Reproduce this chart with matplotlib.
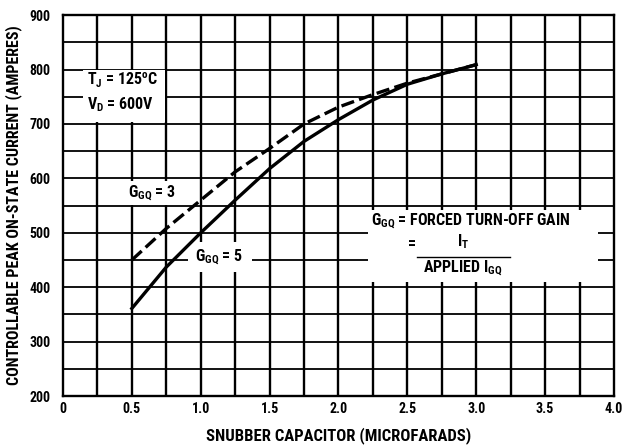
import numpy as np
import matplotlib
matplotlib.use("Agg")
import matplotlib.pyplot as plt
from matplotlib import font_manager
from matplotlib.patches import Rectangle

# pick a narrow bold sans if one is installed
names = {f.name for f in font_manager.fontManager.ttflist}
font = "DejaVu Sans"
for cand in ["Liberation Sans Narrow", "Roboto Condensed", "Open Sans Condensed", "Liberation Sans"]:
    if cand in names:
        font = cand
        break

plt.rcParams['font.family'] = [font, 'DejaVu Sans']
plt.rcParams['font.weight'] = 'bold'
plt.rcParams['axes.labelweight'] = 'bold'
plt.rcParams['mathtext.fontset'] = 'custom'
plt.rcParams['mathtext.rm'] = font + ':bold'
plt.rcParams['mathtext.it'] = font + ':bold'
plt.rcParams['mathtext.bf'] = font + ':bold'
plt.rcParams['mathtext.default'] = 'rm'

# data
cap = [0.5, 0.75, 1.0, 1.25, 1.5, 1.75, 2.0, 2.25, 2.5, 2.75, 3.0]
ggq3 = [450, 508, 560, 612, 655, 700, 731, 754, 775, 792, 809]
ggq5 = [361, 437, 500, 560, 618, 668, 708, 744, 773, 792, 809]

x_ticks = [0, 0.5, 1.0, 1.5, 2.0, 2.5, 3.0, 3.5, 4.0]
x_labels = ["0", "0.5", "1.0", "1.5", "2.0", "2.5", "3.0", "3.5", "4.0"]
y_ticks = [200, 300, 400, 500, 600, 700, 800, 900]

fig = plt.figure(figsize=(6.26, 4.45), dpi=100)
ax = fig.add_axes([0.1006, 0.110, 0.8802, 0.856])

ax.set_xlim(0, 4.0)
ax.set_ylim(200, 900)
ax.set_xticks(x_ticks)
ax.set_xticklabels(x_labels)
ax.set_yticks(y_ticks)
ax.tick_params(which='both', length=0)
ax.tick_params(axis='x', pad=4, labelsize=10)
ax.tick_params(axis='y', pad=9, labelsize=10)

# grid every 0.25 uF and every 50 A
xg = np.arange(0.25, 4.0, 0.25)
yg = np.arange(250, 900, 50)
ax.vlines(xg, 200, 900, colors='black', linewidth=1.7, zorder=1)
ax.hlines(yg, 0, 4.0, colors='black', linewidth=1.3, zorder=1)
for s in ax.spines.values():
    s.set_linewidth(1.7)

# white boxes behind the notes
for (x0, y0, w, h) in [(0.145, 703, 0.595, 96),
                       (0.443, 551, 0.443, 44),
                       (0.907, 428, 0.465, 55),
                       (2.214, 409.5, 1.67, 132.5)]:
    ax.add_patch(Rectangle((x0, y0), w, h, facecolor='white', edgecolor='none', zorder=2))

ax.plot(cap, ggq3, color='black', linewidth=2.4, dashes=(4, 1.6), zorder=3)
ax.plot(cap, ggq5, color='black', linewidth=2.4, zorder=3)

fs = 11.5
ax.text(0.174, 781, "T$_J$ = 125$^o$C", fontsize=fs, va='center', zorder=4)
ax.text(0.174, 735, "V$_D$ = 600V", fontsize=fs, va='center', zorder=4)
ax.text(0.472, 573, "G$_{GQ}$ = 3", fontsize=fs, va='center', zorder=4)
ax.text(0.958, 455, "G$_{GQ}$ = 5", fontsize=fs, va='center', zorder=4)
ax.text(2.236, 522, "G$_{GQ}$ = FORCED TURN-OFF GAIN", fontsize=fs, va='center', zorder=4)
ax.text(2.505, 479, "=", fontsize=fs, va='center', zorder=4)
ax.text(2.904, 484, "I$_T$", fontsize=fs, va='center', ha='center', zorder=4)
ax.plot([2.57, 3.245], [455, 455], color='black', linewidth=1.0, zorder=4)
ax.text(2.904, 436, "APPLIED I$_{GQ}$", fontsize=fs, va='center', ha='center', zorder=4)

ax.set_xlabel("SNUBBER CAPACITOR (MICROFARADS)", fontsize=12, labelpad=8)
ax.set_ylabel("CONTROLLABLE PEAK ON-STATE CURRENT (AMPERES)", fontsize=11.5, labelpad=5)

fig.savefig("out.png", dpi=100)
